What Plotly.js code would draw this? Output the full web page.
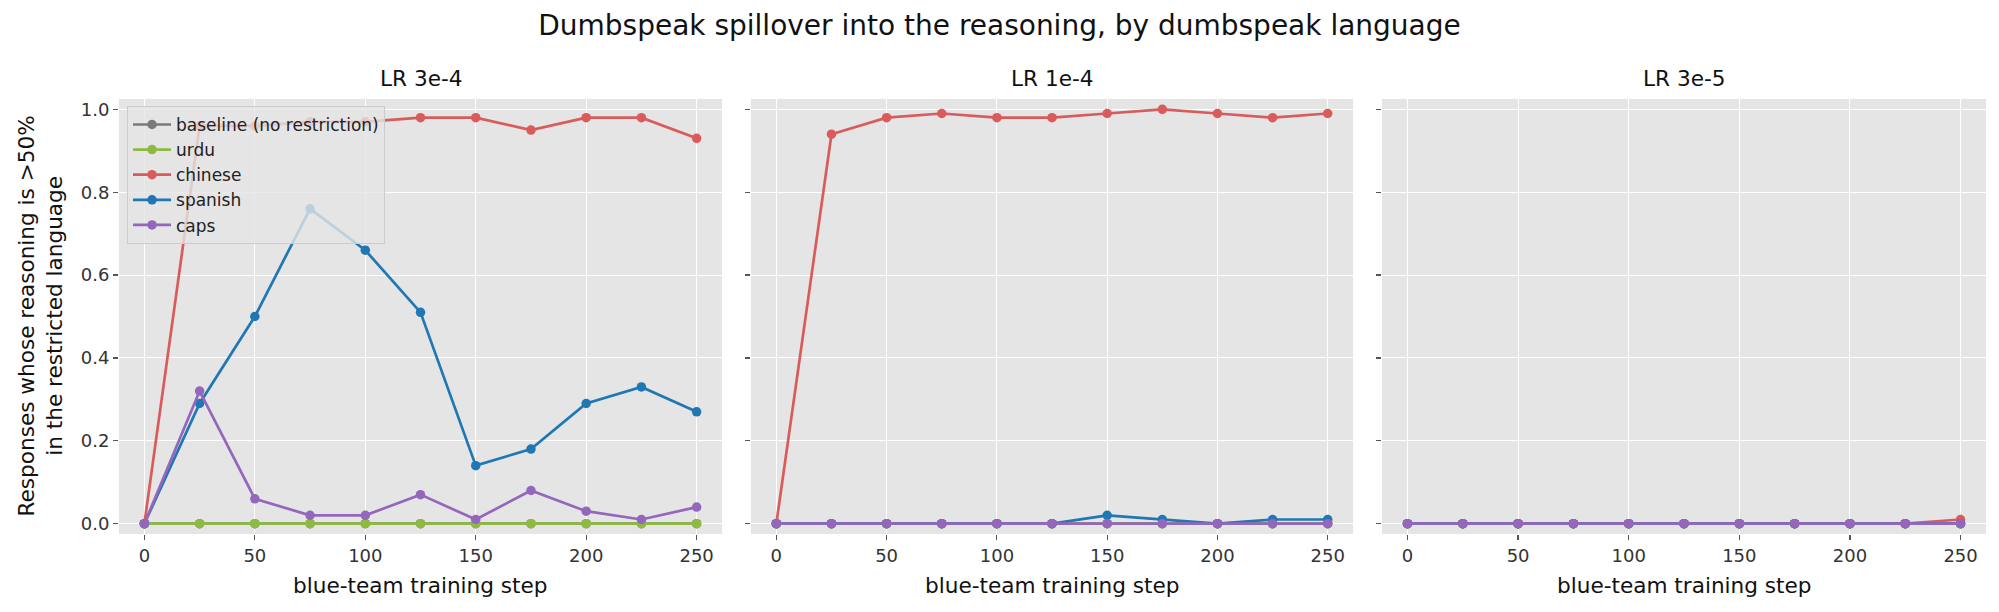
<!DOCTYPE html>
<html>
<head>
<meta charset="utf-8">
<script src="https://cdn.plot.ly/plotly-3.0.1.min.js"></script>
<style>html,body{margin:0;padding:0;background:#fff;}</style>
</head>
<body>
<div id="chart" style="width:1999px;height:612px;"></div>
<script>
// ---- data ----
const steps = [0, 25, 50, 75, 100, 125, 150, 175, 200, 225, 250];
const seriesNames = ["baseline (no restriction)", "urdu", "chinese", "spanish", "caps"];
const panelTitles = ["LR 3e-4", "LR 1e-4", "LR 3e-5"];
const xTickVals = [0, 50, 100, 150, 200, 250];
const yTickVals = [0, 0.2, 0.4, 0.6, 0.8, 1.0];
const yTickText = ["0.0", "0.2", "0.4", "0.6", "0.8", "1.0"];

// LR 3e-4
const lr3e4_baseline = [0, 0, 0, 0, 0, 0, 0, 0, 0, 0, 0];
const lr3e4_urdu     = [0, 0, 0, 0, 0, 0, 0, 0, 0, 0, 0];
const lr3e4_chinese  = [0, 0.96, 0.96, 0.97, 0.97, 0.98, 0.98, 0.95, 0.98, 0.98, 0.93];
const lr3e4_spanish  = [0, 0.29, 0.50, 0.76, 0.66, 0.51, 0.14, 0.18, 0.29, 0.33, 0.27];
const lr3e4_caps     = [0, 0.32, 0.06, 0.02, 0.02, 0.07, 0.01, 0.08, 0.03, 0.01, 0.04];
// LR 1e-4
const lr1e4_baseline = [0, 0, 0, 0, 0, 0, 0, 0, 0, 0, 0];
const lr1e4_urdu     = [0, 0, 0, 0, 0, 0, 0, 0, 0, 0, 0];
const lr1e4_chinese  = [0, 0.94, 0.98, 0.99, 0.98, 0.98, 0.99, 1.00, 0.99, 0.98, 0.99];
const lr1e4_spanish  = [0, 0, 0, 0, 0, 0, 0.02, 0.01, 0, 0.01, 0.01];
const lr1e4_caps     = [0, 0, 0, 0, 0, 0, 0, 0, 0, 0, 0];
// LR 3e-5
const lr3e5_baseline = [0, 0, 0, 0, 0, 0, 0, 0, 0, 0, 0];
const lr3e5_urdu     = [0, 0, 0, 0, 0, 0, 0, 0, 0, 0, 0];
const lr3e5_chinese  = [0, 0, 0, 0, 0, 0, 0, 0, 0, 0, 0.01];
const lr3e5_spanish  = [0, 0, 0, 0, 0, 0, 0, 0, 0, 0, 0];
const lr3e5_caps     = [0, 0, 0, 0, 0, 0, 0, 0, 0, 0, 0];

const panels = [
  [lr3e4_baseline, lr3e4_urdu, lr3e4_chinese, lr3e4_spanish, lr3e4_caps],
  [lr1e4_baseline, lr1e4_urdu, lr1e4_chinese, lr1e4_spanish, lr1e4_caps],
  [lr3e5_baseline, lr3e5_urdu, lr3e5_chinese, lr3e5_spanish, lr3e5_caps]
];

// ---- styles ----
const colors = ["#7a7a7a", "#8EBA42", "#d95b5b", "#1f77b4", "#9467bd"];
const FONT = "DejaVu Sans, sans-serif";
const domains = [[0, 0.3230], [0.3385, 0.6610], [0.6765, 1]];

const traces = [];
panels.forEach((series, p) => {
  const sfx = p === 0 ? "" : String(p + 1);
  series.forEach((vals, s) => {
    traces.push({
      type: "scatter",
      mode: "lines+markers",
      x: steps,
      y: vals,
      xaxis: "x" + sfx,
      yaxis: "y" + sfx,
      name: seriesNames[s],
      legendgroup: seriesNames[s],
      showlegend: p === 0,
      line: {color: colors[s], width: 2.7},
      marker: {color: colors[s], size: 9.5},
      hoverinfo: "skip"
    });
  });
});

const layout = {
  width: 1999,
  height: 612,
  margin: {l: 119, r: 13, t: 99, b: 78},
  paper_bgcolor: "#ffffff",
  plot_bgcolor: "#E5E5E5",
  font: {family: FONT, color: "#222"},
  title: {
    text: "Dumbspeak spillover into the reasoning, by dumbspeak language",
    x: 0.5, xref: "container", xanchor: "center",
    y: 1 - 25 / 612, yref: "container", yanchor: "middle",
    font: {family: FONT, size: 28, color: "#111"}
  },
  showlegend: true,
  legend: {
    x: 0.0043, y: 0.984, xanchor: "left", yanchor: "top",
    bgcolor: "rgba(229,229,229,0.8)", bordercolor: "#cccccc", borderwidth: 1,
    font: {family: FONT, size: 17, color: "#222"},
    itemwidth: 38,
    traceorder: "normal"
  },
  annotations: []
};

for (let p = 0; p < 3; p++) {
  const sfx = p === 0 ? "" : String(p + 1);
  layout["xaxis" + sfx] = {
    domain: domains[p],
    anchor: "y" + sfx,
    range: [-11.5, 261.5],
    tickmode: "array",
    tickvals: xTickVals,
    ticks: "outside", ticklen: 5, tickwidth: 1.2, tickcolor: "#555",
    tickfont: {family: FONT, size: 18, color: "#333"},
    showgrid: true, gridcolor: "#ffffff", gridwidth: 1,
    zeroline: false, showline: false
  };
  layout["yaxis" + sfx] = {
    domain: [0, 1],
    anchor: "x" + sfx,
    range: [-0.025, 1.025],
    tickmode: "array",
    tickvals: yTickVals,
    ticktext: yTickText,
    showticklabels: p === 0,
    ticks: "outside", ticklen: 5, tickwidth: 1.2, tickcolor: "#555",
    tickfont: {family: FONT, size: 18, color: "#333"},
    showgrid: true, gridcolor: "#ffffff", gridwidth: 1,
    zeroline: false, showline: false
  };
  const cx = (domains[p][0] + domains[p][1]) / 2;
  layout.annotations.push({
    text: panelTitles[p], xref: "paper", yref: "paper",
    x: cx, y: 1, xanchor: "center", yanchor: "middle", yshift: 21,
    showarrow: false, font: {family: FONT, size: 21.6, color: "#111"}
  });
  layout.annotations.push({
    text: "blue-team training step", xref: "paper", yref: "paper",
    x: cx, y: 0, xanchor: "center", yanchor: "middle", yshift: -51,
    showarrow: false, font: {family: FONT, size: 21.6, color: "#111"}
  });
}
layout.annotations.push({
  text: "Responses whose reasoning is >50%<br>in the restricted language",
  xref: "paper", yref: "paper", x: 0, y: 0.5,
  xanchor: "center", yanchor: "middle", xshift: -79,
  textangle: -90, showarrow: false,
  font: {family: FONT, size: 21.6, color: "#111"}
});

Plotly.newPlot("chart", traces, layout, {staticPlot: true, displayModeBar: false});
</script>
</body>
</html>
